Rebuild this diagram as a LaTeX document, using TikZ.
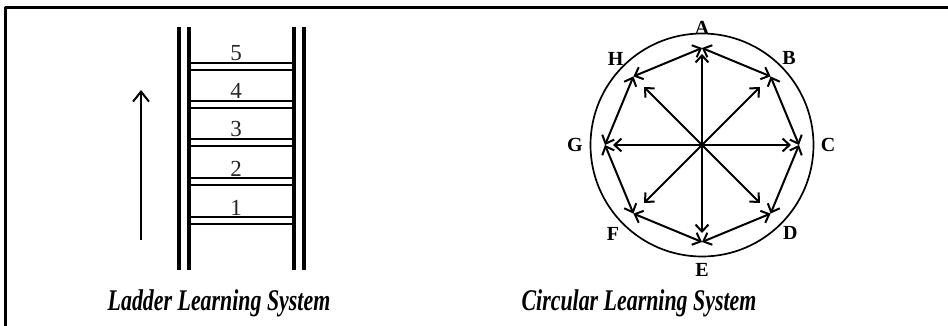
\documentclass[tikz,border=0pt]{standalone}
\usepackage{fontspec}
\setmainfont{Liberation Serif}
\newfontfamily\titlefont[FakeStretch=0.73]{Liberation Serif}
\usetikzlibrary{arrows.meta,calc}
\begin{document}
\begin{tikzpicture}[x=1pt,y=-1pt,line join=round,
		rail/.style={line width=3.2pt},
		rung/.style={line width=2.6pt},
		barb/.style={line width=2pt,arrows={-Straight Barb[length=7pt,width=13pt]}},
		dbarb/.style={line width=2pt,arrows={Straight Barb[length=7pt,width=13pt]-Straight Barb[length=7pt,width=13pt]}},
		vlabel/.style={font=\fontsize{20}{20}\selectfont\bfseries,inner sep=0pt},
		step num/.style={font=\fontsize{23}{23}\selectfont,inner sep=0pt,text=black!85},
		title/.style={font=\titlefont\fontsize{30}{30}\selectfont\bfseries\itshape,inner sep=0pt,anchor=base}]
	\useasboundingbox (0,0) rectangle (948,326);
	% frame
	\draw[line width=3pt] (5,326) -- (5,8) -- (948,8);
	% ladder
	\foreach \x in {179,189,294,304}
	\draw[rail] (\x,27) -- (\x,270);
	\foreach \n/\y in {1/217,2/178,3/139,4/101,5/63}{
		\draw[rung] (189,\y) -- (294,\y);
		\draw[rung] (189,\y+7) -- (294,\y+7);
		\node[step num,anchor=base] (num\n) at (236,\y-2) {\n};
	}
	\coordinate (foot) at (141,240);
	\coordinate (head) at (141,90);
	\draw[barb,arrows={-Straight Barb[length=10pt,width=16pt]}] (foot) -- (head);
	% circle
	\coordinate (ctr) at (702,145);
	\draw[line width=1.7pt] (ctr) circle[radius=111.5];
	\foreach \v/\a/\r/\d in {A/-90/91/117,B/-45/82/123,C/0/89/126,D/45/82/125,E/90/88/125,F/135/82/126,G/180/89/127,H/-135/82/122}{
		\coordinate (\v) at ($(ctr)+(\a:97)$);
		\draw[barb] (ctr) -- ($(ctr)+(\a:\r)$);
		\node[vlabel] (lab\v) at ($(ctr)+(\a:\d)$) {\v};
	}
	\foreach \p/\q in {A/B,B/C,C/D,D/E,E/F,F/G,G/H,H/A}
	\draw[dbarb] (\p) -- (\q);
	% titles
	\node[title] (ladder) at (219,310) {Ladder Learning System};
	\node[title] (circular) at (639,310) {Circular Learning System};
\end{tikzpicture}
\end{document}
